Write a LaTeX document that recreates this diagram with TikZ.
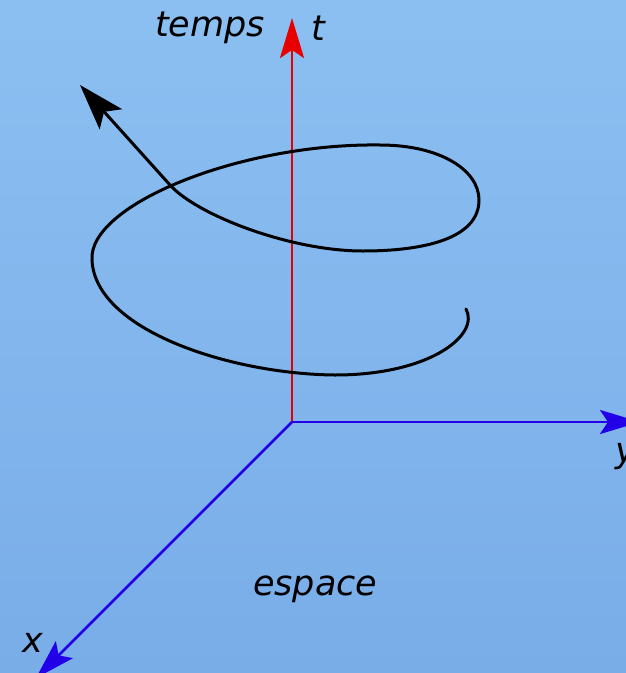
\documentclass[tikz,border=0pt]{standalone}
\usepackage{fontspec}
\setmainfont{DejaVu Sans}
\usetikzlibrary{arrows.meta}
\definecolor{bgtop}{RGB}{140,191,241}
\definecolor{bgbot}{RGB}{121,173,232}
\definecolor{axred}{RGB}{232,0,0}
\definecolor{axblue}{RGB}{34,0,232}
\tikzset{
  lbl/.style={font=\fontsize{35}{40}\selectfont\itshape, text=black, inner sep=0pt, anchor=base west},
  axis/.style={line width=2.7pt, -{Stealth[length=40pt,width=24pt,inset=8pt]}},
}
\begin{document}
\begin{tikzpicture}[x=1pt,y=-1pt]
\useasboundingbox (0,0) rectangle (626,673);
\fill[top color=bgtop, bottom color=bgbot] (0,0) rectangle (626,673);
\begin{scope}
\clip (0,0) rectangle (626,673);
\coordinate (O) at (292,422);
\coordinate (T) at (292,18);
\coordinate (Y) at (640,422);
\coordinate (X) at (36,678);
\draw[axis, axred] (O) -- (T);
\draw[axis, axblue] (O) -- (Y);
\draw[axis, axblue] (O) -- (X);
\coordinate (c0) at (466,309);
\coordinate (c1) at (335,375);
\coordinate (c2) at (92,260);
\coordinate (c3) at (380,145);
\coordinate (c4) at (479,200);
\coordinate (c5) at (363,251);
\coordinate (c6) at (170,185);
\coordinate (c7) at (80,85);
\draw[line width=3pt, line cap=round, -{Stealth[length=46pt,width=30pt,inset=10pt]}]
  (c0) .. controls (480,335) and (430,375) .. (c1)
       .. controls (230,374) and (95,330) .. (c2)
       .. controls (88,205) and (240,143) .. (c3)
       .. controls (440,145) and (479,170) .. (c4)
       .. controls (479,240) and (420,251) .. (c5)
       .. controls (290,251) and (197,215) .. (c6)
       -- (c7);
\node[lbl] (temps) at (155,36) {temps};
\node[lbl] (tl) at (311,40) {t};
\node[lbl] (yl) at (615,462) {y};
\node[lbl] (xl) at (22,652) {x};
\node[lbl] (esp) at (253,595) {espace};
\end{scope}
\end{tikzpicture}
\end{document}
